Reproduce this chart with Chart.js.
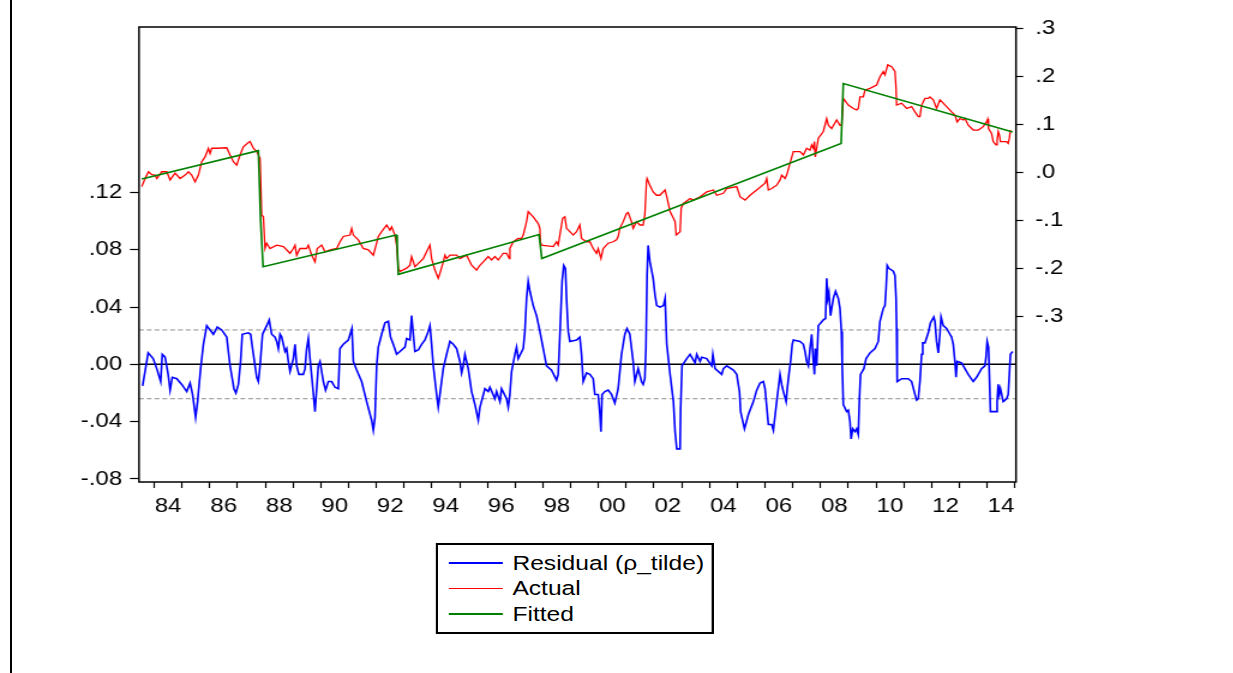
<!DOCTYPE html>
<html>
<head>
<meta charset="utf-8">
<script src="https://cdn.jsdelivr.net/npm/chart.js@4"></script>
<style>
  html, body { margin: 0; padding: 0; background: #fff; overflow: hidden; }
  #pageLine { position: absolute; left: 10px; top: 0; width: 2px; height: 673px; background: #000; }
  #stage { position: absolute; left: 0; top: 0; width: 1028px; height: 673px; transform: scaleX(1.2); transform-origin: 0 0; }
  #chart { position: absolute; left: 0; top: 0; }
  #legend { position: absolute; left: 363px; top: 543px; width: 232px; height: 91px; box-sizing: border-box;
            border: 2px solid #000; padding-top: 5px; background: #fff;
            font: 20.5px "Liberation Sans", Arial, sans-serif; color: #000; }
  .row { height: 25.5px; display: flex; align-items: center; white-space: nowrap; }
  .swatch { width: 45px; height: 1.5px; margin-left: 9px; margin-right: 8px; }
</style>
</head>
<body>
<div id="pageLine"></div>
<div id="stage">
  <canvas id="chart" width="1028" height="673"></canvas>
  <div id="legend"></div>
</div>
<script>
// residual (left scale)
const residualDates = [1983.58,1983.78,1983.96,1984.09,1984.23,1984.29,1984.39,1984.50,1984.57,1984.65,1984.81,1984.99,1985.17,1985.29,1985.38,1985.49,1985.56,1985.67,1985.77,1985.89,1986.01,1986.13,1986.27,1986.43,1986.61,1986.73,1986.87,1986.94,1987.03,1987.11,1987.17,1987.39,1987.47,1987.57,1987.69,1987.75,1987.81,1987.90,1988.05,1988.14,1988.23,1988.35,1988.41,1988.47,1988.53,1988.59,1988.71,1988.77,1988.83,1988.89,1989.01,1989.07,1989.13,1989.21,1989.37,1989.43,1989.49,1989.55,1989.61,1989.69,1989.79,1989.85,1989.91,1989.97,1990.09,1990.17,1990.27,1990.39,1990.51,1990.63,1990.69,1990.81,1990.99,1991.12,1991.17,1991.29,1991.47,1991.65,1991.83,1991.89,1991.95,1992.01,1992.07,1992.19,1992.31,1992.43,1992.51,1992.61,1992.73,1992.85,1993.03,1993.09,1993.21,1993.27,1993.33,1993.39,1993.51,1993.63,1993.75,1993.87,1993.93,1993.99,1994.05,1994.17,1994.23,1994.29,1994.41,1994.53,1994.65,1994.77,1994.89,1995.01,1995.07,1995.13,1995.19,1995.31,1995.43,1995.55,1995.67,1995.73,1995.91,1996.03,1996.09,1996.27,1996.33,1996.45,1996.51,1996.69,1996.75,1996.81,1996.87,1996.99,1997.05,1997.11,1997.29,1997.35,1997.41,1997.47,1997.53,1997.65,1997.77,1997.89,1998.01,1998.13,1998.31,1998.49,1998.55,1998.59,1998.69,1998.75,1998.81,1998.85,1998.91,1998.97,1999.21,1999.33,1999.39,1999.45,1999.57,1999.69,1999.81,1999.87,1999.99,2000.05,2000.09,2000.13,2000.23,2000.35,2000.47,2000.59,2000.71,2000.83,2000.95,2001.03,2001.13,2001.25,2001.31,2001.43,2001.55,2001.61,2001.67,2001.71,2001.75,2001.79,2001.85,2001.97,2002.04,2002.10,2002.22,2002.34,2002.40,2002.46,2002.58,2002.70,2002.76,2002.82,2002.94,2002.96,2003.01,2003.18,2003.30,2003.48,2003.54,2003.66,2003.72,2003.90,2004.08,2004.12,2004.20,2004.44,2004.50,2004.62,2004.86,2004.98,2005.08,2005.12,2005.26,2005.40,2005.58,2005.70,2005.82,2005.94,2006.00,2006.12,2006.24,2006.30,2006.42,2006.54,2006.60,2006.66,2006.76,2006.80,2006.86,2006.92,2006.98,2007.02,2007.26,2007.38,2007.44,2007.50,2007.56,2007.62,2007.68,2007.74,2007.78,2007.81,2007.86,2007.92,2008.10,2008.18,2008.22,2008.26,2008.30,2008.36,2008.46,2008.54,2008.64,2008.70,2008.75,2008.78,2008.82,2008.94,2009.00,2009.06,2009.10,2009.16,2009.24,2009.30,2009.36,2009.40,2009.44,2009.56,2009.64,2009.78,2009.96,2010.08,2010.14,2010.26,2010.32,2010.36,2010.40,2010.46,2010.62,2010.68,2010.72,2010.74,2010.76,2010.92,2011.16,2011.28,2011.40,2011.46,2011.52,2011.58,2011.64,2011.68,2011.76,2011.88,2011.96,2012.08,2012.12,2012.18,2012.24,2012.30,2012.34,2012.42,2012.54,2012.66,2012.72,2012.78,2012.84,2012.88,2012.92,2013.08,2013.20,2013.32,2013.50,2013.62,2013.80,2013.92,2013.96,2014.00,2014.05,2014.08,2014.12,2014.32,2014.36,2014.40,2014.44,2014.48,2014.58,2014.70,2014.76,2014.80,2014.84,2014.92];
const residualValues = [-0.015,0.008,0.004,-0.003,-0.012,0.007,0.005,-0.007,-0.018,-0.009,-0.010,-0.014,-0.019,-0.013,-0.021,-0.037,-0.026,-0.003,0.014,0.027,0.024,0.021,0.026,0.024,0.019,-0.001,-0.017,-0.020,-0.014,0.002,0.021,0.022,0.021,0.007,-0.009,-0.012,-0.001,0.021,0.027,0.031,0.021,0.019,0.016,0.011,0.021,0.019,0.009,0.011,0.002,-0.005,0.004,0.014,-0.001,-0.007,-0.007,-0.003,0.011,0.018,0.004,-0.012,-0.033,-0.017,-0.001,0.002,-0.012,-0.018,-0.012,-0.012,-0.016,-0.017,0.011,0.014,0.017,0.025,0.002,-0.004,-0.012,-0.026,-0.039,-0.046,-0.037,-0.001,0.012,0.021,0.029,0.030,0.019,0.014,0.007,0.009,0.012,0.018,0.017,0.034,0.021,0.009,0.010,0.014,0.017,0.023,0.027,0.014,-0.001,-0.021,-0.030,-0.021,-0.003,0.007,0.016,0.014,0.011,0.002,-0.006,-0.001,0.007,-0.003,-0.019,-0.028,-0.039,-0.030,-0.017,-0.019,-0.016,-0.024,-0.019,-0.026,-0.017,-0.024,-0.030,-0.021,-0.005,0.007,0.012,0.004,0.011,0.023,0.046,0.058,0.051,0.041,0.034,0.023,0.011,-0.001,-0.004,-0.011,-0.007,0.011,0.058,0.069,0.067,0.046,0.023,0.016,0.017,0.019,0.007,-0.012,-0.006,-0.007,-0.010,-0.021,-0.021,-0.034,-0.047,-0.021,-0.019,-0.018,-0.021,-0.027,-0.017,0.007,0.021,0.025,0.021,0.002,-0.012,-0.003,-0.012,-0.014,-0.010,0.011,0.062,0.083,0.072,0.060,0.048,0.041,0.040,0.041,0.046,0.014,-0.007,-0.026,-0.047,-0.059,-0.059,-0.031,-0.001,0.004,0.007,0.001,0.007,0.002,0.005,0.004,-0.001,0.007,-0.003,-0.007,-0.003,-0.001,-0.004,-0.007,-0.019,-0.033,-0.045,-0.035,-0.026,-0.018,-0.013,-0.012,-0.017,-0.042,-0.042,-0.046,-0.026,-0.007,-0.014,-0.019,-0.026,-0.017,-0.007,0.002,0.014,0.017,0.016,0.014,0.009,0.002,-0.001,0.011,0.021,0.002,-0.007,0.011,-0.001,0.027,0.031,0.032,0.060,0.046,0.050,0.034,0.046,0.051,0.046,0.039,0.023,-0.001,-0.028,-0.033,-0.032,-0.040,-0.052,-0.045,-0.047,-0.045,-0.049,-0.024,-0.007,-0.003,0.004,0.008,0.011,0.016,0.030,0.039,0.041,0.053,0.069,0.067,0.065,0.062,0.046,0.025,-0.012,-0.010,-0.010,-0.012,-0.021,-0.025,-0.024,-0.012,0.007,0.015,0.015,0.022,0.029,0.033,0.030,0.016,0.008,0.021,0.033,0.027,0.025,0.021,0.019,0.014,0.002,-0.009,0.002,0.001,-0.003,-0.007,-0.012,-0.009,-0.003,-0.001,0.005,0.016,0.012,-0.007,-0.033,-0.033,-0.026,-0.014,-0.021,-0.017,-0.026,-0.024,-0.021,-0.007,0.007,0.009];

// actual (right scale)
const actualDates = [1983.55,1983.67,1983.79,1983.91,1984.03,1984.09,1984.27,1984.45,1984.57,1984.75,1984.93,1985.11,1985.23,1985.35,1985.47,1985.59,1985.71,1985.83,1985.95,1986.01,1986.07,1986.25,1986.61,1986.73,1986.85,1986.97,1987.09,1987.21,1987.39,1987.45,1987.57,1987.69,1987.81,1987.87,1987.93,1987.99,1988.05,1988.17,1988.41,1988.65,1988.89,1989.01,1989.07,1989.13,1989.25,1989.49,1989.55,1989.67,1989.79,1989.87,1990.03,1990.15,1990.33,1990.57,1990.69,1990.81,1991.05,1991.11,1991.17,1991.35,1991.53,1991.71,1991.89,1991.99,1992.07,1992.19,1992.37,1992.49,1992.55,1992.67,1992.73,1992.79,1992.85,1993.09,1993.21,1993.27,1993.39,1993.57,1993.69,1993.81,1993.93,1993.99,1994.11,1994.23,1994.29,1994.41,1994.47,1994.53,1994.65,1994.89,1995.01,1995.25,1995.43,1995.61,1995.73,1995.85,1996.03,1996.15,1996.27,1996.39,1996.57,1996.69,1996.79,1996.81,1996.93,1997.11,1997.23,1997.29,1997.41,1997.47,1997.65,1997.83,1997.89,1997.91,1997.95,1998.37,1998.49,1998.55,1998.61,1998.71,1998.79,1998.85,1998.97,1999.09,1999.21,1999.33,1999.39,1999.57,1999.69,1999.81,1999.93,1999.99,2000.09,2000.17,2000.35,2000.53,2000.65,2000.71,2000.77,2000.89,2001.01,2001.07,2001.19,2001.25,2001.37,2001.49,2001.61,2001.67,2001.73,2001.75,2001.85,2001.97,2002.09,2002.21,2002.40,2002.46,2002.58,2002.70,2002.76,2002.80,2002.94,2002.98,2003.06,2003.30,2003.42,2003.66,2003.90,2004.14,2004.26,2004.50,2004.62,2004.98,2005.10,2005.28,2005.46,2005.70,2006.00,2006.06,2006.12,2006.24,2006.42,2006.54,2006.60,2006.72,2006.78,2006.90,2007.02,2007.26,2007.38,2007.50,2007.62,2007.68,2007.74,2007.78,2007.81,2007.86,2007.92,2008.10,2008.22,2008.28,2008.40,2008.58,2008.70,2008.76,2008.82,2009.00,2009.18,2009.30,2009.36,2009.42,2009.54,2009.60,2009.78,2010.02,2010.14,2010.26,2010.32,2010.42,2010.56,2010.68,2010.72,2010.74,2010.92,2011.10,2011.28,2011.40,2011.52,2011.58,2011.64,2011.76,2011.88,2011.94,2012.06,2012.18,2012.30,2012.42,2012.54,2012.72,2012.84,2012.92,2013.02,2013.14,2013.20,2013.32,2013.50,2013.68,2013.86,2013.98,2014.02,2014.05,2014.16,2014.22,2014.32,2014.36,2014.40,2014.44,2014.48,2014.70,2014.76,2014.80,2014.84];
const actualValues = [-0.029,-0.012,0.002,-0.004,-0.005,-0.012,0.002,0.002,-0.015,-0.001,-0.012,-0.005,0.002,-0.005,-0.019,-0.005,0.023,0.033,0.051,0.040,0.051,0.051,0.052,0.037,0.023,0.016,0.037,0.054,0.063,0.065,0.051,0.044,0.030,-0.088,-0.092,-0.158,-0.147,-0.158,-0.151,-0.154,-0.168,-0.158,-0.151,-0.172,-0.158,-0.158,-0.151,-0.172,-0.186,-0.158,-0.151,-0.165,-0.161,-0.158,-0.144,-0.133,-0.130,-0.116,-0.130,-0.140,-0.158,-0.161,-0.172,-0.151,-0.133,-0.123,-0.109,-0.120,-0.113,-0.130,-0.151,-0.199,-0.206,-0.199,-0.193,-0.175,-0.196,-0.186,-0.179,-0.165,-0.151,-0.179,-0.203,-0.220,-0.210,-0.186,-0.172,-0.179,-0.172,-0.172,-0.179,-0.172,-0.193,-0.203,-0.193,-0.186,-0.175,-0.182,-0.175,-0.182,-0.168,-0.168,-0.179,-0.158,-0.144,-0.137,-0.137,-0.130,-0.102,-0.081,-0.092,-0.106,-0.116,-0.144,-0.151,-0.154,-0.144,-0.151,-0.130,-0.095,-0.092,-0.116,-0.123,-0.130,-0.123,-0.109,-0.137,-0.144,-0.144,-0.158,-0.168,-0.158,-0.179,-0.158,-0.147,-0.144,-0.140,-0.133,-0.116,-0.102,-0.085,-0.083,-0.102,-0.116,-0.102,-0.109,-0.109,-0.088,-0.019,-0.012,-0.026,-0.040,-0.047,-0.047,-0.036,-0.050,-0.081,-0.095,-0.102,-0.130,-0.123,-0.074,-0.064,-0.054,-0.057,-0.050,-0.040,-0.036,-0.047,-0.043,-0.033,-0.029,-0.050,-0.057,-0.047,-0.036,-0.022,-0.012,-0.036,-0.033,-0.026,-0.015,-0.005,-0.012,-0.005,0.020,0.044,0.044,0.037,0.051,0.047,0.058,0.051,0.065,0.033,0.051,0.072,0.086,0.113,0.099,0.092,0.110,0.099,0.099,0.155,0.141,0.134,0.131,0.134,0.158,0.158,0.172,0.176,0.183,0.200,0.211,0.204,0.225,0.221,0.211,0.176,0.141,0.145,0.134,0.138,0.127,0.117,0.117,0.141,0.155,0.155,0.158,0.152,0.134,0.152,0.145,0.138,0.127,0.120,0.106,0.113,0.110,0.113,0.099,0.089,0.089,0.096,0.106,0.112,0.092,0.082,0.065,0.058,0.068,0.086,0.079,0.065,0.065,0.061,0.072,0.089];

// fitted (right scale), straight trend pieces with breaks
const fittedDates = [1983.55,1987.75,1987.83,1987.92,1992.71,1992.75,1992.79,1997.86,1997.96,2008.74,2008.78,2008.82,2014.92];
const fittedValues = [-0.013,0.046,-0.099,-0.196,-0.130,-0.151,-0.212,-0.129,-0.179,0.061,0.124,0.186,0.085];

const residualBand = 0.024;
const yearTicks = [1984,1985,1986,1987,1988,1989,1990,1991,1992,1993,1994,1995,1996,1997,1998,1999,2000,2001,2002,2003,2004,2005,2006,2007,2008,2009,2010,2011,2012,2013,2014,2015];
const leftTicks = [-0.08, -0.04, 0, 0.04, 0.08, 0.12];
const rightTicks = [-0.3, -0.2, -0.1, 0, 0.1, 0.2, 0.3];
const seriesNames = ["Residual (\u03c1_tilde)", "Actual", "Fitted"];
const seriesColors = ["#0000ff", "#ff0000", "#008000"];

const xMin = 1983.45;
const xMax = 2015.04;

function toPoints(dates, values) {
  return dates.map((d, i) => ({ x: d, y: values[i] }));
}

// .12 / -.04 style labels like the original
function decimalLabel(v, digits) {
  const n = Math.round(Math.abs(v) * Math.pow(10, digits));
  return (v < 0 ? "-" : "") + "." + String(n).padStart(digits, "0");
}

Chart.defaults.font.family = "'Liberation Sans', Arial, sans-serif";
Chart.defaults.font.size = 20;
Chart.defaults.color = "#000";

const plotFrame = {
  id: "plotFrame",
  afterDatasetsDraw(chart) {
    const { ctx, chartArea } = chart;
    ctx.save();
    ctx.strokeStyle = "#000";
    ctx.lineWidth = 1.5;
    ctx.strokeRect(chartArea.left, chartArea.top, chartArea.right - chartArea.left, chartArea.bottom - chartArea.top);
    ctx.restore();
  },
};

const ctx = document.getElementById("chart");
new Chart(ctx, {
  type: "line",
  data: {
    datasets: [
      { label: seriesNames[2], data: toPoints(fittedDates, fittedValues), yAxisID: "yRight",
        borderColor: seriesColors[2], borderWidth: 1.6, order: 0 },
      { label: seriesNames[1], data: toPoints(actualDates, actualValues), yAxisID: "yRight",
        borderColor: seriesColors[1], borderWidth: 1.3, order: 1 },
      { label: seriesNames[0], data: toPoints(residualDates, residualValues), yAxisID: "yLeft",
        borderColor: seriesColors[0], borderWidth: 1.6, order: 2 },
      { label: "zero", data: [{ x: xMin, y: 0 }, { x: xMax, y: 0 }], yAxisID: "yLeft",
        borderColor: "#000", borderWidth: 1.5, order: 3 },
      { label: "+se", data: [{ x: xMin, y: residualBand }, { x: xMax, y: residualBand }], yAxisID: "yLeft",
        borderColor: "#8c8c8c", borderWidth: 1, borderDash: [4, 2.5], order: 4 },
      { label: "-se", data: [{ x: xMin, y: -residualBand }, { x: xMax, y: -residualBand }], yAxisID: "yLeft",
        borderColor: "#8c8c8c", borderWidth: 1, borderDash: [4, 2.5], order: 5 },
    ],
  },
  options: {
    responsive: false,
    devicePixelRatio: 1,
    animation: false,
    events: [],
    elements: { point: { radius: 0 }, line: { tension: 0, fill: false } },
    layout: { padding: { left: 35.83, right: 121.33, top: 27, bottom: 151 } },
    plugins: { legend: { display: false }, tooltip: { enabled: false } },
    scales: {
      x: {
        type: "linear",
        position: "bottom",
        min: xMin,
        max: xMax,
        afterBuildTicks: (scale) => { scale.ticks = yearTicks.map((v) => ({ value: v })); },
        afterFit: (scale) => { scale.height = 40; },
        grid: { drawOnChartArea: false, drawTicks: true, tickLength: 6, color: "#000", tickWidth: 1.2 },
        border: { display: false },
        ticks: {
          autoSkip: false,
          maxRotation: 0,
          labelOffset: 11.57,
          padding: 6,
          callback: (v) => (v % 2 === 0 ? String(v % 100).padStart(2, "0") : ""),
        },
      },
      yLeft: {
        type: "linear",
        position: "left",
        min: -0.0821,
        max: 0.2354,
        afterBuildTicks: (scale) => { scale.ticks = leftTicks.map((v) => ({ value: v })); },
        afterFit: (scale) => { scale.width = 80; },
        grid: { drawOnChartArea: false, tickLength: 7.5, color: "#000", tickWidth: 1.2 },
        border: { display: false },
        ticks: { padding: 6.5, callback: (v) => decimalLabel(v, 2) },
      },
      yRight: {
        type: "linear",
        position: "right",
        min: -0.645,
        max: 0.3039,
        afterBuildTicks: (scale) => { scale.ticks = rightTicks.map((v) => ({ value: v })); },
        afterFit: (scale) => { scale.width = 60; },
        grid: { drawOnChartArea: false, tickLength: 6, color: "#000", tickWidth: 1.2 },
        border: { display: false },
        ticks: { padding: 10, callback: (v) => decimalLabel(v, 1) },
      },
    },
  },
  plugins: [plotFrame],
});

// legend box under the plot
const legend = document.getElementById("legend");
seriesNames.forEach((name, i) => {
  const row = document.createElement("div");
  row.className = "row";
  const swatch = document.createElement("span");
  swatch.className = "swatch";
  swatch.style.background = seriesColors[i];
  const text = document.createElement("span");
  text.textContent = name;
  row.appendChild(swatch);
  row.appendChild(text);
  legend.appendChild(row);
});
</script>
</body>
</html>
